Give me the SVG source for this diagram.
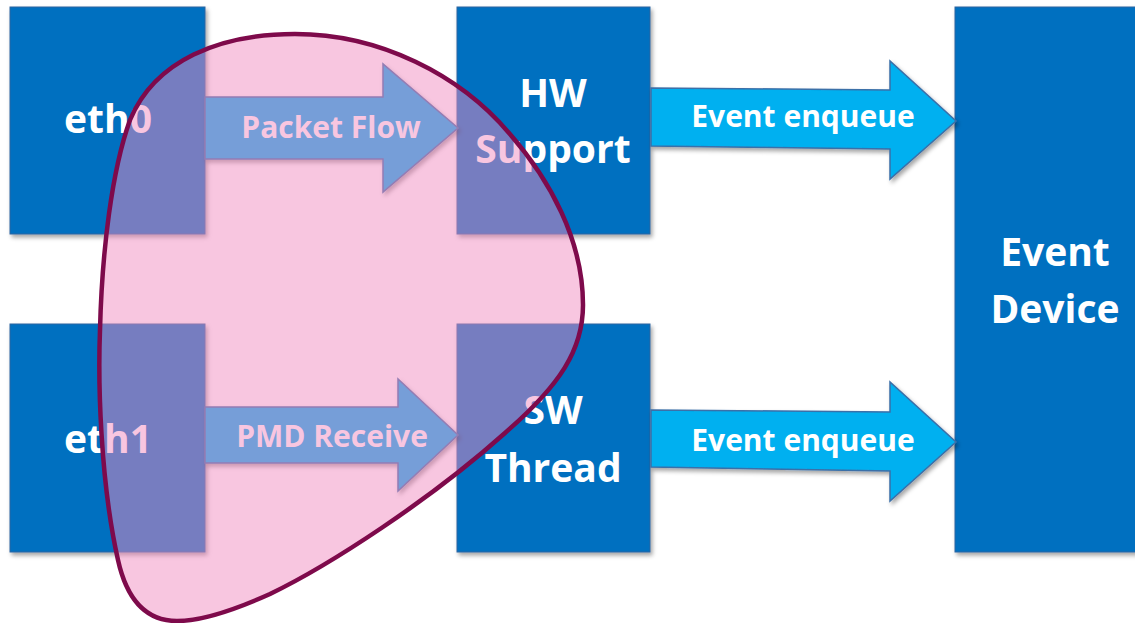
<svg xmlns="http://www.w3.org/2000/svg" width="1135" height="623" viewBox="0 0 1135 623">
<defs>
<filter id="sh" x="-10%" y="-10%" width="130%" height="130%">
<feDropShadow dx="2" dy="3" stdDeviation="2" flood-color="#000" flood-opacity="0.35"/>
</filter>
<style>
.box{fill:#0070C0;stroke:#2F64A0;stroke-width:1;filter:url(#sh)}
.arr{fill:#00B0F0;stroke:#3A6FA8;stroke-width:1.5;filter:url(#sh)}
.nt{font-family:"Open Sans","Liberation Sans",sans-serif;font-weight:bold;font-size:39px;fill:#FFFFFF;text-anchor:middle}
.lt{font-family:"Open Sans","Liberation Sans",sans-serif;font-weight:bold;font-size:30px;fill:#FFFFFF;text-anchor:middle}
</style>
</defs>
<rect width="1135" height="623" fill="#FFFFFF"/>
<g id="eth0"><rect class="box" x="10" y="7" width="195" height="227"/><text class="nt" x="108" y="133">eth0</text></g>
<g id="eth1"><rect class="box" x="10" y="324" width="195" height="228"/><text class="nt" x="108" y="453">eth1</text></g>
<g id="hw"><rect class="box" x="457" y="7" width="193" height="227"/><text class="nt" x="553" y="107">HW</text><text class="nt" x="553" y="163">Support</text></g>
<g id="sw"><rect class="box" x="457" y="324" width="193" height="228"/><text class="nt" x="553" y="424">SW</text><text class="nt" x="553" y="482">Thread</text></g>
<g id="evdev"><rect class="box" x="955" y="7" width="185" height="545"/><text class="nt" x="1055" y="266">Event</text><text class="nt" x="1055" y="323">Device</text></g>
<g id="connectors">
<path class="arr" d="M205,97 L383,97 L383,64 L458,128 L383,192 L383,159 L205,159 Z"/>
<text class="lt" x="331" y="138">Packet Flow</text>
<path class="arr" d="M205,407 L398,407 L398,379 L458,435 L398,491 L398,463 L205,463 Z"/>
<text class="lt" x="332" y="447">PMD Receive</text>
<path class="arr" d="M651,88 L890,90 L890,61 L956,121 L890,179 L890,149 L651,146 Z"/>
<text class="lt" x="803" y="127">Event enqueue</text>
<path class="arr" d="M651,410 L890,412 L890,382 L956,442 L890,501 L890,471 L651,467 Z"/>
<text class="lt" x="803" y="451">Event enqueue</text>
</g>
<g id="overlay">
<path d="M295,34 C380,34 460,75 509,133 C550,180 583,240 583,305 C583,350 560,385 505,433 C430,500 330,565 270,594 C230,612 200,621 177,621 C150,621 128,605 118,560 C100,480 98,380 100,330 C102,250 112,170 130,120 C155,60 220,34 295,34 Z" fill="#F08BC0" fill-opacity="0.49" stroke="#7E0A4B" stroke-width="4.5"/>
</g>
</svg>
